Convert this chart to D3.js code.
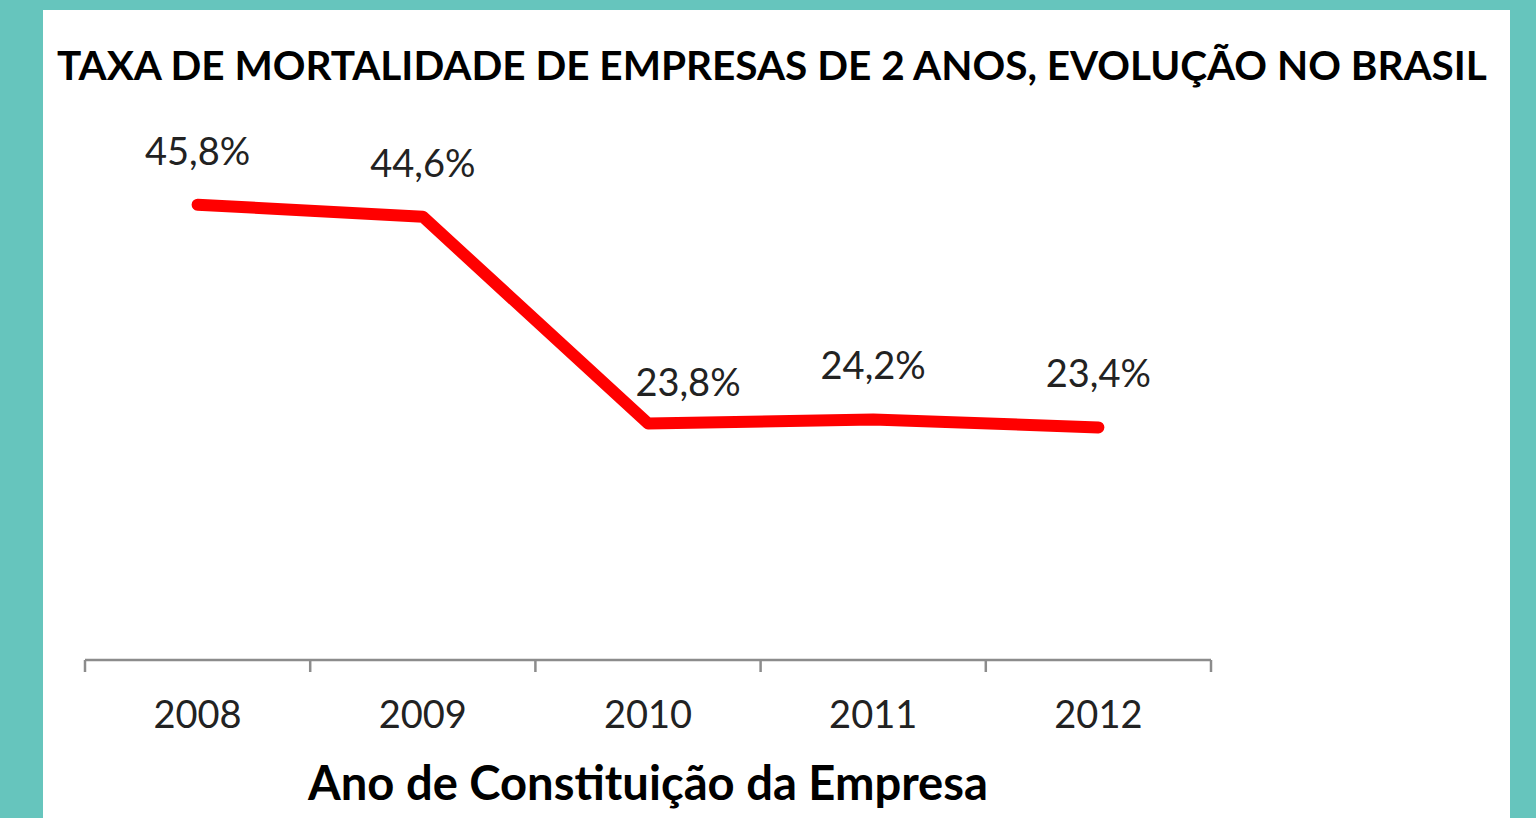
<!DOCTYPE html>
<html>
<head>
  <meta charset="utf-8">
  <title>Taxa de mortalidade de empresas</title>
  <script src="https://d3js.org/d3.v7.min.js"></script>
  <style>
    html, body { margin: 0; padding: 0; background: #66c5bd; }
    svg { display: block; }
  </style>
</head>
<body>
  <script>
    // data
    const years = ["2008", "2009", "2010", "2011", "2012"];
    const rates = [45.8, 44.6, 23.8, 24.2, 23.4];
    const rateLabels = ["45,8%", "44,6%", "23,8%", "24,2%", "23,4%"];

    const W = 1536, H = 818;
    const font = "Lato, 'Open Sans', sans-serif";

    let svg = d3.select("body").append("svg")
      .attr("width", W)
      .attr("height", H);

    // scale a text's font size so it spans the given width
    function fitWidth(sel, target) {
      let size = +sel.attr("font-size");
      let len = sel.node().getComputedTextLength();
      sel.attr("font-size", size * target / len);
    }

    // teal frame + white panel
    svg.append("rect").attr("width", W).attr("height", H).attr("fill", "#66c5bd");
    svg.append("rect")
      .attr("x", 43).attr("y", 10)
      .attr("width", 1467).attr("height", H - 10)
      .attr("fill", "#ffffff");

    // title
    let title = svg.append("text")
      .attr("x", 772).attr("y", 80)
      .attr("text-anchor", "middle")
      .attr("font-family", font)
      .attr("font-weight", "bold")
      .attr("font-size", 44)
      .attr("fill", "#000")
      .text("TAXA DE MORTALIDADE DE EMPRESAS DE 2 ANOS, EVOLUÇÃO NO BRASIL");
    fitWidth(title, 1430);

    // scales
    let x = d3.scaleBand()
      .domain(years)
      .range([85, 1211])
      .padding(0);

    let y = d3.scaleLinear()
      .domain([0, 50])
      .range([660, 163]);

    // x axis with ticks between categories
    let axisG = svg.append("g");
    axisG.append("line")
      .attr("x1", x.range()[0]).attr("x2", x.range()[1])
      .attr("y1", y(0)).attr("y2", y(0))
      .attr("stroke", "#8c8c8c").attr("stroke-width", 2.5);

    let tickPos = years.map(d => x(d)).concat([x(years[years.length - 1]) + x.bandwidth()]);
    axisG.selectAll(".tick")
      .data(tickPos)
      .enter()
      .append("line")
      .attr("x1", d => d).attr("x2", d => d)
      .attr("y1", y(0)).attr("y2", y(0) + 12)
      .attr("stroke", "#8c8c8c").attr("stroke-width", 2.5);

    axisG.selectAll(".tickLabel")
      .data(years)
      .enter()
      .append("text")
      .attr("x", d => x(d) + x.bandwidth() / 2)
      .attr("y", 728)
      .attr("text-anchor", "middle")
      .attr("font-family", font)
      .attr("font-size", 38)
      .attr("fill", "#222")
      .text(d => d);

    // axis title
    let axTitle = svg.append("text")
      .attr("x", 648).attr("y", 800)
      .attr("text-anchor", "middle")
      .attr("font-family", font)
      .attr("font-weight", "bold")
      .attr("font-size", 42)
      .attr("fill", "#000")
      .text("Ano de Constituição da Empresa");
    fitWidth(axTitle, 680);

    // line
    let line = d3.line()
      .x((d, i) => x(years[i]) + x.bandwidth() / 2)
      .y(d => y(d));

    svg.append("path")
      .datum(rates)
      .attr("d", line)
      .attr("fill", "none")
      .attr("stroke", "#ff0000")
      .attr("stroke-width", 12)
      .attr("stroke-linecap", "round")
      .attr("stroke-linejoin", "round");

    // data labels (the 2010 one sits a bit right and lower, clear of the line)
    svg.selectAll(".lbl")
      .data(rates)
      .enter()
      .append("text")
      .attr("x", (d, i) => x(years[i]) + x.bandwidth() / 2 + (i === 2 ? 40 : 0))
      .attr("y", (d, i) => y(d) - (i === 2 ? 27 : 40))
      .attr("text-anchor", "middle")
      .attr("font-family", font)
      .attr("font-size", 38)
      .attr("fill", "#222")
      .text((d, i) => rateLabels[i]);
  </script>
</body>
</html>
